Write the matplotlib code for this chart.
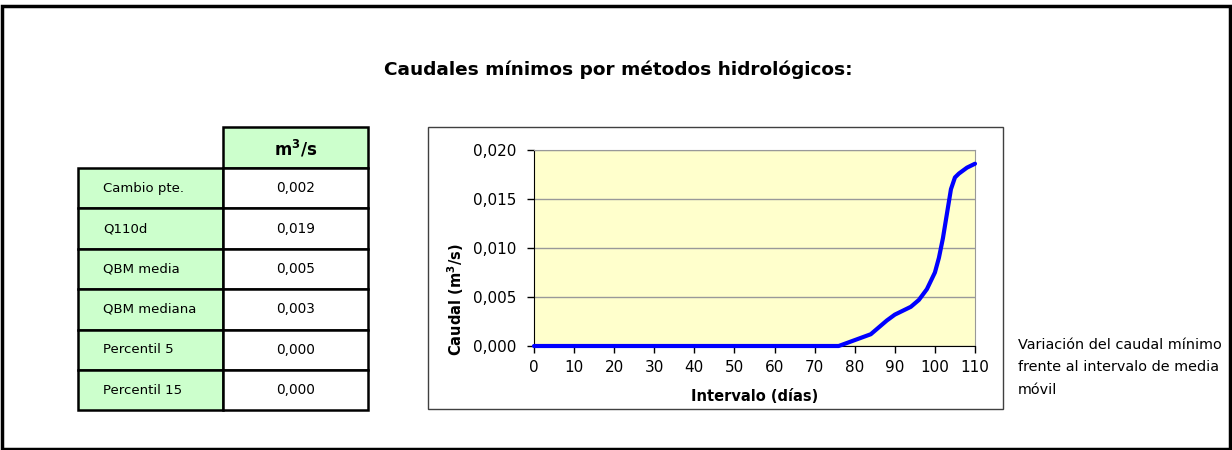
import matplotlib
matplotlib.use("Agg")
import matplotlib.pyplot as plt
from matplotlib.patches import Rectangle
from matplotlib.ticker import FuncFormatter, MultipleLocator

plt.rcParams['font.family'] = ['DejaVu Sans']
plt.rcParams['mathtext.default'] = 'regular'

# ---- data ----
title = "Caudales mínimos por métodos hidrológicos:"
table_header = "m$^3$/s"
table_labels = ["Cambio pte.", "Q110d", "QBM media", "QBM mediana", "Percentil 5", "Percentil 15"]
table_values = [0.002, 0.019, 0.005, 0.003, 0.000, 0.000]

interval_days = [0, 76, 78, 80, 82, 84, 86, 88, 90, 92, 94, 96, 98, 100,
                 101, 102, 103, 104, 105, 106, 107, 108, 110]
min_flow = [0.0, 0.0, 0.0003, 0.0006, 0.0009, 0.0012, 0.0019, 0.0026, 0.0032,
            0.0036, 0.0040, 0.0047, 0.0058, 0.0075, 0.0090, 0.0110, 0.0135,
            0.0160, 0.0172, 0.0176, 0.0179, 0.0182, 0.0186]

x_label = "Intervalo (días)"
y_label = "Caudal (m$^3$/s)"
note = "Variación del caudal mínimo\nfrente al intervalo de media\nmóvil"

W, H = 1232, 450
fig = plt.figure(figsize=(W / 100, H / 100), dpi=100)
fig.patch.set_facecolor("white")

# background overlay axes in pixel coordinates
bg = fig.add_axes([0, 0, 1, 1])
bg.set_xlim(0, W)
bg.set_ylim(H, 0)
bg.axis("off")

# outer frame
bg.add_patch(Rectangle((2, 6), W - 4, H - 7, fill=False, edgecolor="black", lw=2.5))

bg.text(618, 70, title, ha="center", va="center", fontsize=13.3, fontweight="bold")

# table
green = "#CCFFCC"
x0, x1, x2 = 78, 223, 368
hdr_top, hdr_bot = 127, 168
row_h = 40.4
bg.add_patch(Rectangle((x1, hdr_top), x2 - x1, hdr_bot - hdr_top, facecolor=green,
                       edgecolor="black", lw=1.8))
bg.text((x1 + x2) / 2, (hdr_top + hdr_bot) / 2 + 1, table_header, ha="center", va="center",
        fontsize=12, fontweight="bold")
for i, (lab, val) in enumerate(zip(table_labels, table_values)):
    top = hdr_bot + i * row_h
    bg.add_patch(Rectangle((x0, top), x1 - x0, row_h, facecolor=green, edgecolor="black", lw=1.8))
    bg.add_patch(Rectangle((x1, top), x2 - x1, row_h, facecolor="white", edgecolor="black", lw=1.8))
    bg.text(x0 + 25, top + row_h / 2, lab, ha="left", va="center", fontsize=9.5)
    bg.text((x1 + x2) / 2, top + row_h / 2, f"{val:.3f}".replace(".", ","),
            ha="center", va="center", fontsize=9.8)

# chart box
bg.add_patch(Rectangle((428, 127), 575, 282, fill=False, edgecolor="#404040", lw=1.0))

# note text
bg.text(1018, 338, note, ha="left", va="top", fontsize=10.4, linespacing=1.75)

# plot axes
ax = fig.add_axes([534 / W, (H - 346) / H, 441 / W, 196 / H])
ax.set_facecolor("#FFFFCC")
ax.plot(interval_days, min_flow, color="#0000FF", lw=3.0, solid_capstyle="round",
        solid_joinstyle="round", zorder=3, clip_on=False)
ax.set_xlim(0, 110)
ax.set_ylim(0, 0.020)
ax.xaxis.set_major_locator(MultipleLocator(10))
ax.yaxis.set_major_locator(MultipleLocator(0.005))
ax.yaxis.set_major_formatter(FuncFormatter(lambda v, p: f"{v:.3f}".replace(".", ",")))
ax.grid(axis="y", color="#999999", lw=1.0, zorder=1)
ax.set_axisbelow(True)
for s in ["top", "right"]:
    ax.spines[s].set_color("#999999")
for s in ["left", "bottom"]:
    ax.spines[s].set_color("black")
ax.tick_params(axis="both", direction="out", length=5, width=1, labelsize=11, colors="black")
ax.tick_params(axis="x", pad=5)
ax.tick_params(axis="y", pad=8)
ax.set_xlabel(x_label, fontsize=10.5, fontweight="bold")
ax.set_ylabel(y_label, fontsize=10.5, fontweight="bold")
ax.xaxis.set_label_coords(0.5, (346 - 389) / 196)
ax.yaxis.set_label_coords((466 - 534) / 441, (346 - 300) / 196)

fig.savefig("out.png", dpi=100)
